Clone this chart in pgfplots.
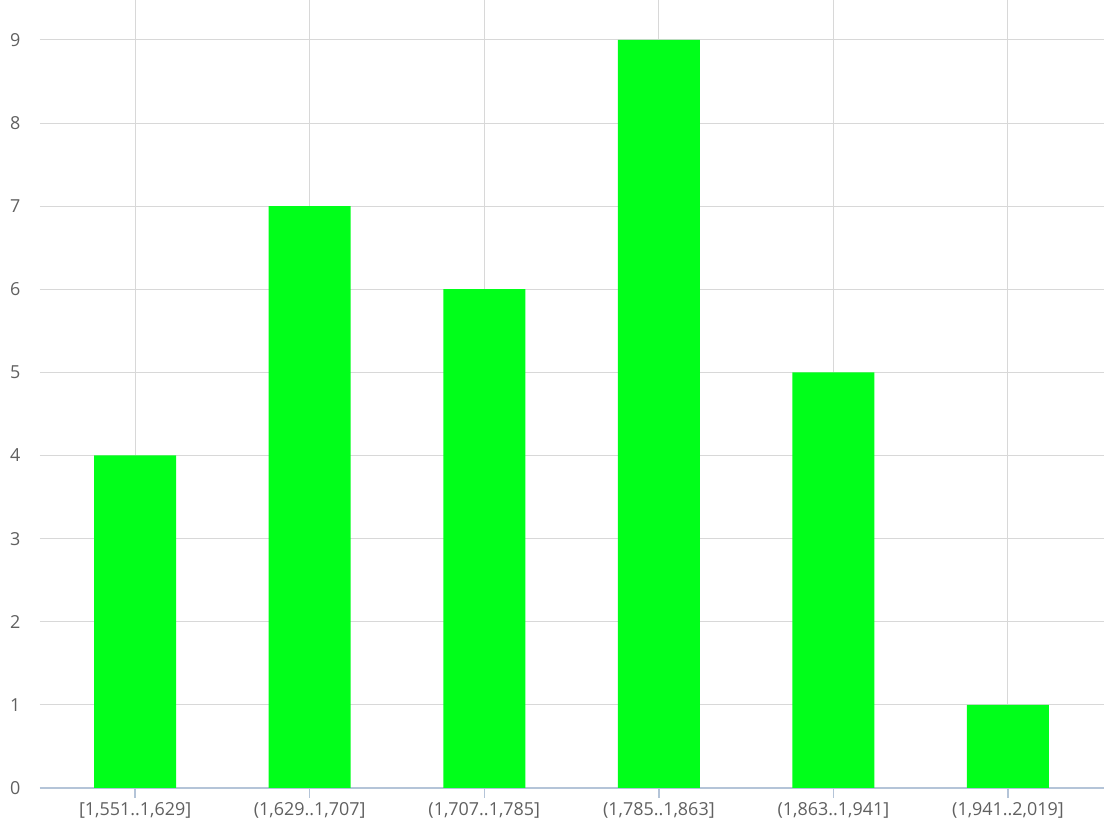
\documentclass[border=0pt]{standalone}
\usepackage{pgfplots}
\pgfplotsset{compat=1.18}
\usepackage{fontspec}
\setmainfont{Open Sans}
\definecolor{bargreen}{RGB}{0,255,26}
\definecolor{gridc}{RGB}{216,216,216}
\definecolor{axc}{RGB}{180,196,216}
\definecolor{txt}{RGB}{96,96,96}
\begin{document}
\begin{tikzpicture}
\begin{axis}[name=ax, scale only axis, width=1064bp, height=788bp,
  xmin=-0.545, xmax=5.55, ymin=0, ymax=9.48,
  axis x line*=bottom, axis y line*=left,
  y axis line style={draw=none},
  x axis line style={draw=axc, line width=1.5bp, -},
  xmajorgrids, ymajorgrids,
  grid style={draw=gridc, line width=1bp},
  xtick={0,1,2,3,4,5},
  xticklabels={{[1,551..1,629]},{(1,629..1,707]},{(1,707..1,785]},{(1,785..1,863]},{(1,863..1,941]},{(1,941..2,019]}},
  ytick={0,1,...,9},
  xtick align=outside,
  major tick length=10bp,
  xtick style={draw=axc, line width=1.5bp},
  ytick style={draw=none},
  /pgf/number format/assume math mode=true,
  tick label style={font=\fontsize{18}{21}\selectfont, text=txt},
  yticklabel style={anchor=west, inner sep=0pt, xshift=-30bp},
  xticklabel style={yshift=-1bp},
  ybar, bar width=82bp,
]
\addplot[fill=bargreen, draw=none] coordinates {(0,4) (1,7) (2,6) (3,9) (4,5) (5,1)};
\end{axis}
\pgfresetboundingbox
\path (ax.south west) ++(-40bp,-44bp) rectangle (ax.north east);
\end{tikzpicture}
\end{document}
